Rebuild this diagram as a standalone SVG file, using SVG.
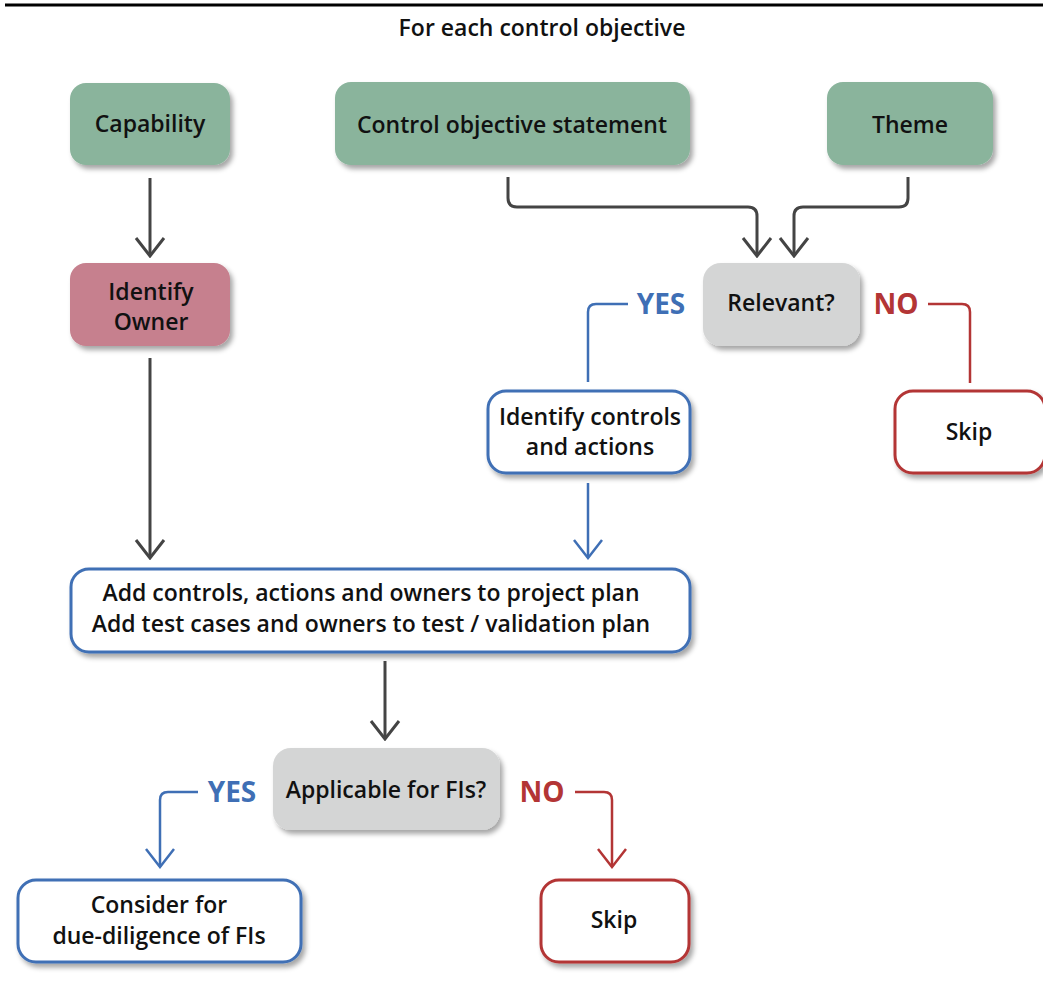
<svg xmlns="http://www.w3.org/2000/svg" width="1043" height="985" viewBox="0 0 1043 985">
<defs>
<filter id="sh" x="-10%" y="-10%" width="130%" height="140%">
<feDropShadow dx="3" dy="4" stdDeviation="2.5" flood-color="#000" flood-opacity="0.35"/>
</filter>
<marker id="ag" viewBox="0 0 32 22" refX="16" refY="20" markerWidth="32" markerHeight="22" markerUnits="userSpaceOnUse">
<path d="M2,2 L16,20 L30,2" fill="none" stroke="#444" stroke-width="3"/>
</marker>
<marker id="ab" viewBox="0 0 32 22" refX="16" refY="20" markerWidth="32" markerHeight="22" markerUnits="userSpaceOnUse">
<path d="M2,2 L16,20 L30,2" fill="none" stroke="#3f6fb5" stroke-width="2.5"/>
</marker>
<marker id="ar" viewBox="0 0 32 22" refX="16" refY="20" markerWidth="32" markerHeight="22" markerUnits="userSpaceOnUse">
<path d="M2,2 L16,20 L30,2" fill="none" stroke="#b33535" stroke-width="2.5"/>
</marker>
</defs>
<style>
text{font-family:"Open Sans","Noto Sans","Liberation Sans",sans-serif;fill:#111;text-anchor:middle;font-weight:600}
.t{font-size:23px}
.green{fill:#8ab49c}
.pink{fill:#c6808e}
.grey{fill:#d4d5d5}
.bw{fill:#fff;stroke:#3f6fb5;stroke-width:3}
.rw{fill:#fff;stroke:#b33535;stroke-width:3}
.cg{fill:none;stroke:#444;stroke-width:3}
.cb{fill:none;stroke:#3f6fb5;stroke-width:2.5}
.cr{fill:none;stroke:#b33535;stroke-width:2.5}
.yes{font-size:28px;font-weight:bold;fill:#3f6fb5}
.no{font-size:28px;font-weight:bold;fill:#b33535}
</style>
<line x1="5" y1="5" x2="1043" y2="5" stroke="#000" stroke-width="3"/>
<text x="542" y="36" style="font-size:23px">For each control objective</text>

<g id="capability"><rect x="70" y="83" width="160" height="82" rx="16" class="green" filter="url(#sh)"/><text class="t" x="150" y="132">Capability</text></g>
<g id="statement"><rect x="335" y="82" width="355" height="83" rx="16" class="green" filter="url(#sh)"/><text class="t" x="512" y="133">Control objective statement</text></g>
<g id="theme"><rect x="827" y="82" width="166" height="83" rx="16" class="green" filter="url(#sh)"/><text class="t" x="910" y="133">Theme</text></g>
<g id="owner"><rect x="70" y="263" width="160" height="83" rx="16" class="pink" filter="url(#sh)"/><text class="t" x="151" y="300">Identify</text><text class="t" x="151" y="330">Owner</text></g>
<g id="relevant"><rect x="703" y="263" width="157" height="83" rx="18" class="grey" filter="url(#sh)"/><text class="t" x="781" y="311">Relevant?</text></g>
<g id="controls"><rect x="488" y="391" width="202" height="82" rx="18" class="bw" filter="url(#sh)"/><text class="t" x="590" y="425">Identify controls</text><text class="t" x="590" y="455">and actions</text></g>
<g id="skip1"><rect x="895" y="391" width="150" height="82" rx="18" class="rw" filter="url(#sh)"/><text class="t" x="969" y="440">Skip</text></g>
<g id="add"><rect x="71" y="569" width="619" height="83" rx="18" class="bw" filter="url(#sh)"/><text class="t" x="371" y="601">Add controls, actions and owners to project plan</text><text class="t" x="371" y="632">Add test cases and owners to test / validation plan</text></g>
<g id="applicable"><rect x="273" y="748" width="227" height="82" rx="18" class="grey" filter="url(#sh)"/><text class="t" x="386" y="798">Applicable for FIs?</text></g>
<g id="consider"><rect x="18" y="880" width="283" height="82" rx="18" class="bw" filter="url(#sh)"/><text class="t" x="159" y="913">Consider for</text><text class="t" x="159" y="944">due-diligence of FIs</text></g>
<g id="skip2"><rect x="541" y="880" width="148" height="82" rx="18" class="rw" filter="url(#sh)"/><text class="t" x="614" y="928">Skip</text></g>

<g id="connectors">
<line x1="150" y1="178" x2="150" y2="256" class="cg" marker-end="url(#ag)"/>
<line x1="150" y1="358" x2="150" y2="558" class="cg" marker-end="url(#ag)"/>
<path d="M508,177 V198 Q508,207 517,207 H748 Q757,207 757,216 V256" class="cg" marker-end="url(#ag)"/>
<path d="M908,177 V198 Q908,207 899,207 H803 Q794,207 794,216 V256" class="cg" marker-end="url(#ag)"/>
<path d="M628,304 H596 Q588,304 588,312 V382" class="cb"/>
<text class="yes" x="661" y="314">YES</text>
<text class="no" x="896" y="314">NO</text>
<path d="M928,304 H962 Q970,304 970,312 V383" class="cr"/>
<line x1="588" y1="483" x2="588" y2="558" class="cb" marker-end="url(#ab)"/>
<line x1="385" y1="661" x2="385" y2="739" class="cg" marker-end="url(#ag)"/>
<path d="M198,792 H168 Q160,792 160,800 V867" class="cb" marker-end="url(#ab)"/>
<text class="yes" x="232" y="802">YES</text>
<text class="no" x="542" y="802">NO</text>
<path d="M575,792 H604 Q612,792 612,800 V867" class="cr" marker-end="url(#ar)"/>
</g>
</svg>
